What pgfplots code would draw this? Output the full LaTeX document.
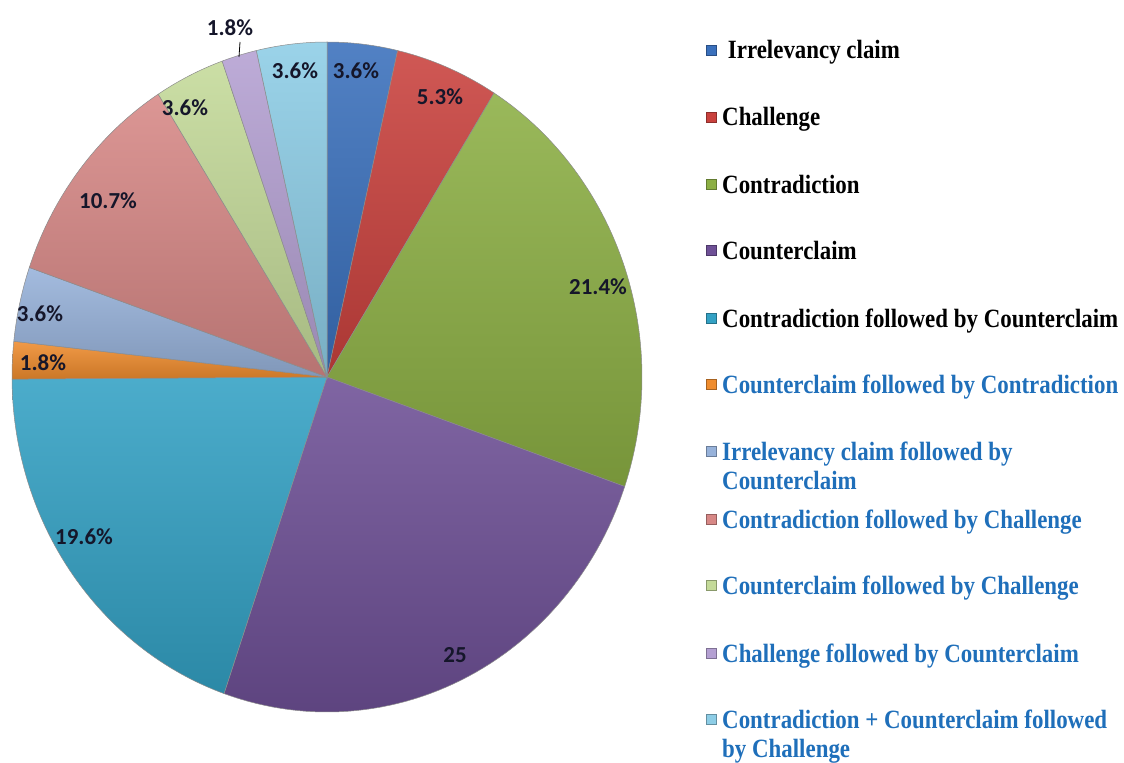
\documentclass[border=0pt]{standalone}
\usepackage{pgfplots}
\pgfplotsset{compat=1.18}
\usepackage{graphicx}
\usepackage{fontspec}
\setmainfont{Liberation Serif}
\newfontfamily\labfont{Carlito}
\definecolor{cA}{HTML}{3A70BC}
\definecolor{cB}{HTML}{C9413D}
\definecolor{cC}{HTML}{8CAF44}
\definecolor{cD}{HTML}{6E5096}
\definecolor{cE}{HTML}{33A1C4}
\definecolor{cF}{HTML}{EF8C2E}
\definecolor{cG}{HTML}{97B2DA}
\definecolor{cH}{HTML}{D78886}
\definecolor{cI}{HTML}{C4DA99}
\definecolor{cJ}{HTML}{B4A0D2}
\definecolor{cK}{HTML}{8DCDE6}
\definecolor{legblue}{HTML}{1F6FBA}
\definecolor{labtext}{HTML}{15162A}
% share (%) of each category, clockwise from 12 o'clock
% Irrelevancy claim 3.6 | Challenge 5.3 | Contradiction 21.4 | Counterclaim 25
% Contradiction f.b. Counterclaim 19.6 | Counterclaim f.b. Contradiction 1.8
% Irrelevancy claim f.b. Counterclaim 3.6 | Contradiction f.b. Challenge 10.7
% Counterclaim f.b. Challenge 3.6 | Challenge f.b. Counterclaim 1.8
% Contradiction + Counterclaim f.b. Challenge 3.6
\newcommand{\slice}[3]{% start, end (cumulative %), colour
  \addplot[draw=black!45, line width=0.5bp, top color=#3!88!white, bottom color=#3!85!black,
    domain=#1:#2, samples=60, variable=\t]
    ({327+315*sin(3.6*\t)}, {377-335*cos(3.6*\t)}) -- (axis cs:327,377) -- cycle;
}
\newcommand{\legentry}[4]{% y-baseline, colour, text colour, text
  \addplot[only marks, mark=square*, mark size=5bp, mark options={fill=#2, draw=#2!70!black, line width=0.4bp}] coordinates {(711,#1-9)};
  \node[anchor=base west, inner sep=0pt, text=#3, font=\bfseries\fontsize{23}{26}\selectfont] at (axis cs:722,#1) {\scalebox{1}[1.15]{#4}};
}
\newcommand{\legline}[3]{% y-baseline, text colour, text
  \node[anchor=base west, inner sep=0pt, text=#2, font=\bfseries\fontsize{23}{26}\selectfont] at (axis cs:722,#1) {\scalebox{1}[1.15]{#3}};
}
\newcommand{\lab}[3]{% x, y, text
  \node[text=labtext, font=\labfont\bfseries\fontsize{23}{26}\selectfont, inner sep=0pt] at (axis cs:#1,#2) {#3};
}
\begin{document}
\begin{tikzpicture}
\begin{axis}[
  scale only axis, width=1124bp, height=762bp,
  xmin=0, xmax=1124, ymin=0, ymax=762, y dir=reverse,
  hide axis, clip=false,
]
\slice{0}{3.6}{cA}
\slice{3.6}{8.9}{cB}
\slice{8.9}{30.3}{cC}
\slice{30.3}{55.3}{cD}
\slice{55.3}{74.9}{cE}
\slice{74.9}{76.7}{cF}
\slice{76.7}{80.3}{cG}
\slice{80.3}{91.0}{cH}
\slice{91.0}{94.6}{cI}
\slice{94.6}{96.4}{cJ}
\slice{96.4}{100}{cK}

\lab{356}{71}{3.6\%}
\lab{440}{97}{5.3\%}
\lab{598}{287}{21.4\%}
\lab{455}{655}{25}
\lab{84}{537}{19.6\%}
\lab{43}{363}{1.8\%}
\lab{40}{314}{3.6\%}
\lab{108}{201}{10.7\%}
\lab{185}{108}{3.6\%}
\lab{230}{28}{1.8\%}
\lab{295}{71}{3.6\%}
\addplot[black, line width=0.8bp] coordinates {(240,42) (239,57)};

\legentry{59}{cA}{black}{\ Irrelevancy claim}
\legentry{126}{cB}{black}{Challenge}
\legentry{193}{cC}{black}{Contradiction}
\legentry{259}{cD}{black}{Counterclaim}
\legentry{327}{cE}{black}{Contradiction followed by Counterclaim}
\legentry{393}{cF}{legblue}{Counterclaim followed by Contradiction}
\legentry{460}{cG}{legblue}{Irrelevancy claim followed by}
\legline{489}{legblue}{Counterclaim}
\legentry{528}{cH}{legblue}{Contradiction followed by Challenge}
\legentry{594}{cI}{legblue}{Counterclaim followed by Challenge}
\legentry{662}{cJ}{legblue}{Challenge followed by Counterclaim}
\legentry{728}{cK}{legblue}{Contradiction + Counterclaim followed}
\legline{757}{legblue}{by Challenge}
\end{axis}
\pgfresetboundingbox
\useasboundingbox (current axis.south west) rectangle (current axis.north east);
\end{tikzpicture}
\end{document}
